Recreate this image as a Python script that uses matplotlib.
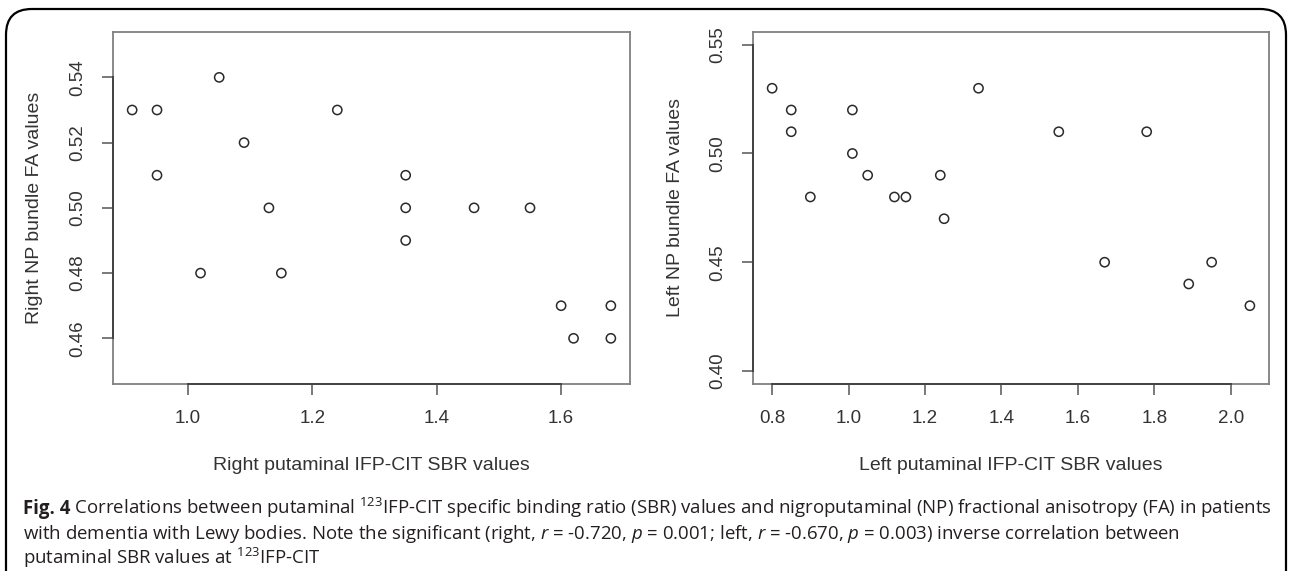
import matplotlib
matplotlib.use("Agg")
import matplotlib.pyplot as plt
from matplotlib.patches import FancyBboxPatch
from matplotlib.lines import Line2D

# ---- data ----
right_sbr = [0.91, 0.95, 0.95, 1.05, 1.02, 1.09, 1.13, 1.15, 1.24, 1.35, 1.35, 1.35,
             1.46, 1.55, 1.60, 1.62, 1.68, 1.68]
right_fa = [0.53, 0.53, 0.51, 0.54, 0.48, 0.52, 0.50, 0.48, 0.53, 0.51, 0.50, 0.49,
            0.50, 0.50, 0.47, 0.46, 0.47, 0.46]
left_sbr = [0.80, 0.85, 0.85, 0.90, 1.01, 1.01, 1.05, 1.12, 1.15, 1.24, 1.25, 1.34,
            1.55, 1.67, 1.78, 1.89, 1.95, 2.05]
left_fa = [0.53, 0.52, 0.51, 0.48, 0.52, 0.50, 0.49, 0.48, 0.48, 0.49, 0.47, 0.53,
           0.51, 0.45, 0.51, 0.44, 0.45, 0.43]
right_xticks = [1.0, 1.2, 1.4, 1.6]
right_yticks = [0.46, 0.48, 0.50, 0.52, 0.54]
left_xticks = [0.8, 1.0, 1.2, 1.4, 1.6, 1.8, 2.0]
left_yticks = [0.40, 0.45, 0.50, 0.55]
right_ylim = (0.45, 0.55)
left_ylim = (0.40, 0.55)
right_xlabel = "Right putaminal IFP-CIT SBR values"
right_ylabel = "Right NP bundle FA values"
left_xlabel = "Left putaminal IFP-CIT SBR values"
left_ylabel = "Left NP bundle FA values"
caption_label = "Fig. 4"
caption_lines = [
    r" Correlations between putaminal $^{123}$IFP-CIT specific binding ratio (SBR) values and nigroputaminal (NP) fractional anisotropy (FA) in patients",
    r"with dementia with Lewy bodies. Note the significant (right, $r$ = -0.720, $p$ = 0.001; left, $r$ = -0.670, $p$ = 0.003) inverse correlation between",
    r"putaminal SBR values at $^{123}$IFP-CIT",
]

plt.rcParams['mathtext.fontset'] = 'custom'
plt.rcParams['mathtext.rm'] = 'Open Sans'
plt.rcParams['mathtext.it'] = 'Open Sans:italic'
plt.rcParams['mathtext.bf'] = 'Open Sans:bold'

W, H = 1290, 571
fig = plt.figure(figsize=(W / 100, H / 100), dpi=100)
fig.patch.set_facecolor("white")

TXT = "#333333"
AX_FONT = ["Liberation Sans", "DejaVu Sans"]
CAP_FONT = ["Open Sans", "DejaVu Sans"]


def r_range(lo, hi):
    d = (hi - lo) * 0.04
    return lo - d, hi + d


def panel(rect, xs, ys, xticks, yticks, ylim, xlabel, ylabel):
    ax = fig.add_axes(rect)
    ax.scatter(xs, ys, s=44, facecolors="none", edgecolors="#2a2a2a", linewidths=1.1, zorder=3)
    ax.set_xlim(*r_range(min(xs), max(xs)))
    ax.set_ylim(*r_range(*ylim))
    ax.set_xticks(xticks)
    ax.set_yticks(yticks)
    ax.set_xticklabels([f"{t:.1f}" for t in xticks], family=AX_FONT, fontsize=13.5, color=TXT)
    ax.set_yticklabels([f"{t:.2f}" for t in yticks], family=AX_FONT, fontsize=13.5, color=TXT,
                       rotation=90, va="center")
    ax.tick_params(direction="out", length=8, width=1.1, color="#555555", pad=11)
    for sp in ax.spines.values():
        sp.set_color("#808080")
        sp.set_linewidth(1.3)
    ax.add_line(Line2D([xticks[0], xticks[-1]], [0, 0], transform=ax.get_xaxis_transform(),
                       color="#444444", lw=1.4, clip_on=False, zorder=4))
    ax.add_line(Line2D([0, 0], [yticks[0], yticks[-1]], transform=ax.get_yaxis_transform(),
                       color="#444444", lw=1.4, clip_on=False, zorder=4))
    ax.set_xlabel(xlabel, family=AX_FONT, fontsize=14, color=TXT)
    ax.set_ylabel(ylabel, family=AX_FONT, fontsize=14, color=TXT)
    ax.xaxis.set_label_coords(0.5, -0.232)
    ax.xaxis.label.set_va("center")
    ax.yaxis.set_label_coords(-0.151, 0.5)
    ax.yaxis.label.set_va("center")
    return ax


panel([113 / W, 1 - 384 / H, (630 - 113) / W, (384 - 31.7) / H],
      right_sbr, right_fa, right_xticks, right_yticks, right_ylim, right_xlabel, right_ylabel)
panel([753 / W, 1 - 384 / H, (1269 - 753) / W, (384 - 31.7) / H],
      left_sbr, left_fa, left_xticks, left_yticks, left_ylim, left_xlabel, left_ylabel)

# caption
CAP_SIZE = 13.4
CAP_COLOR = "#231f20"
line_y = [514, 539, 564]
renderer = fig.canvas.get_renderer()
lab = fig.text(23 / W, 1 - line_y[0] / H, caption_label, family=CAP_FONT, fontsize=CAP_SIZE,
               weight="bold", color=CAP_COLOR, va="baseline", ha="left")
bb = lab.get_window_extent(renderer)
for i, line in enumerate(caption_lines):
    x0 = bb.x1 / W if i == 0 else 23 / W
    fig.text(x0, 1 - line_y[i] / H, line, family=CAP_FONT, fontsize=CAP_SIZE,
             color=CAP_COLOR, va="baseline", ha="left")

# rounded frame
frame = FancyBboxPatch((6 / W, -0.2), (1286 - 6) / W, (1 - 9 / H) + 0.2,
                       boxstyle="round,pad=0,rounding_size=0.02", transform=fig.transFigure,
                       facecolor="none", edgecolor="black", linewidth=1.6, clip_on=False,
                       mutation_aspect=W / H)
fig.patches.append(frame)

fig.savefig("out.png", dpi=100, facecolor="white")
